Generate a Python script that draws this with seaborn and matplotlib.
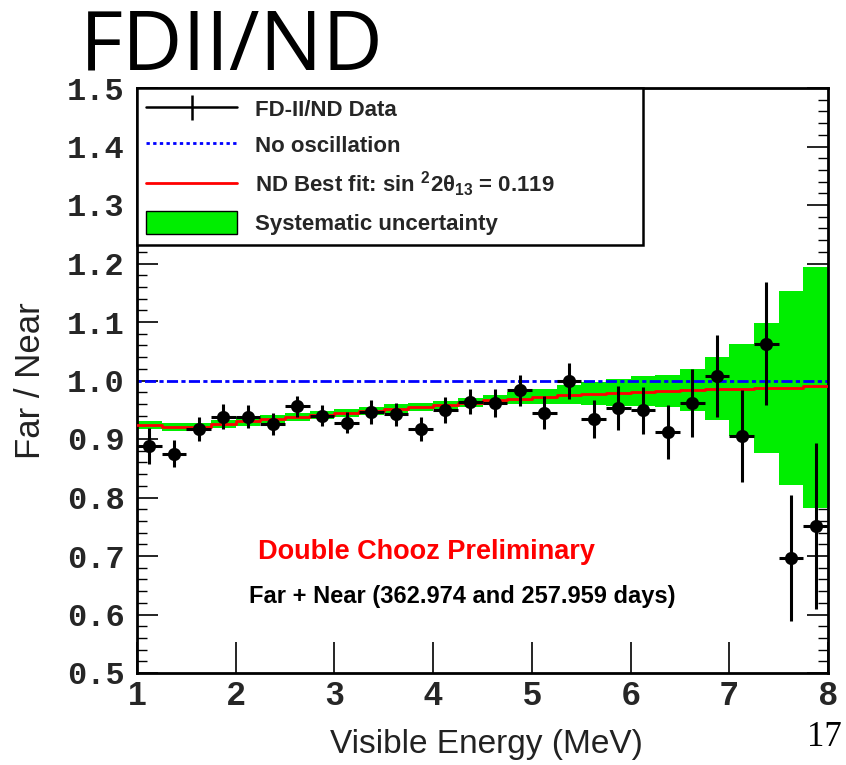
import numpy as np
import pandas as pd
import matplotlib
matplotlib.use("Agg")
import matplotlib.pyplot as plt
import seaborn as sns
from matplotlib.lines import Line2D
from matplotlib.patches import Patch
from matplotlib.ticker import MultipleLocator

# ---------------- data ----------------
energy = [1.125, 1.375, 1.625, 1.875, 2.125, 2.375, 2.625, 2.875, 3.125, 3.375,
          3.625, 3.875, 4.125, 4.375, 4.625, 4.875, 5.125, 5.375, 5.625, 5.875,
          6.125, 6.375, 6.625, 6.875, 7.125, 7.375, 7.625, 7.875]
ratio = [0.888, 0.875, 0.917, 0.938, 0.938, 0.926, 0.956, 0.940, 0.928, 0.946,
         0.942, 0.917, 0.949, 0.964, 0.962, 0.983, 0.945, 0.999, 0.934, 0.953,
         0.949, 0.912, 0.962, 1.007, 0.905, 1.063, 0.697, 0.752]
ratio_err = [0.030, 0.023, 0.021, 0.021, 0.020, 0.019, 0.018, 0.018, 0.018, 0.021,
             0.019, 0.020, 0.022, 0.022, 0.024, 0.026, 0.028, 0.031, 0.033, 0.037,
             0.040, 0.046, 0.058, 0.070, 0.078, 0.105, 0.108, 0.142]
best_fit = [0.924, 0.920, 0.920, 0.926, 0.930, 0.934, 0.938, 0.941, 0.945, 0.948,
            0.952, 0.955, 0.958, 0.962, 0.966, 0.969, 0.972, 0.975, 0.977, 0.979,
            0.981, 0.982, 0.983, 0.985, 0.986, 0.987, 0.988, 0.990]
band_hi = [0.931, 0.927, 0.927, 0.933, 0.937, 0.941, 0.945, 0.948, 0.952, 0.955,
           0.959, 0.962, 0.965, 0.970, 0.976, 0.981, 0.986, 0.992, 0.997, 1.002,
           1.007, 1.010, 1.019, 1.040, 1.062, 1.098, 1.153, 1.194]
band_lo = [0.917, 0.913, 0.913, 0.919, 0.923, 0.927, 0.931, 0.934, 0.938, 0.941,
           0.945, 0.948, 0.951, 0.954, 0.958, 0.960, 0.960, 0.959, 0.958, 0.957,
           0.956, 0.955, 0.948, 0.933, 0.905, 0.876, 0.822, 0.782]
bin_half = 0.125
no_osc = 1.0
yticks = [0.5, 0.6, 0.7, 0.8, 0.9, 1.0, 1.1, 1.2, 1.3, 1.4, 1.5]
xticks = [1, 2, 3, 4, 5, 6, 7, 8]

df = pd.DataFrame({"energy": energy, "ratio": ratio, "err": ratio_err})
edges = [e - bin_half for e in energy] + [energy[-1] + bin_half]
step_df = pd.DataFrame({"edge": edges, "fit": best_fit + [best_fit[-1]]})

# ---------------- style ----------------
sns.set_theme(style="ticks")
plt.rcParams["font.family"] = ["Liberation Sans", "DejaVu Sans"]
plt.rcParams["mathtext.fontset"] = "custom"
plt.rcParams["mathtext.rm"] = "Liberation Sans:bold"
plt.rcParams["mathtext.it"] = "Liberation Sans:bold"
plt.rcParams["mathtext.bf"] = "Liberation Sans:bold"

fig = plt.figure(figsize=(8.46, 7.65), dpi=100)
ax = fig.add_axes([137 / 846, 1 - 673 / 765, 691 / 846, 585 / 765])

# systematic band (step)
ax.fill_between(edges, band_lo + [band_lo[-1]], band_hi + [band_hi[-1]],
                step="post", color="#00ee00", lw=0, zorder=1)
# best fit
sns.lineplot(data=step_df, x="edge", y="fit", ax=ax, color="red", lw=2,
             drawstyle="steps-post", estimator=None, sort=False, zorder=3)
# no oscillation
ax.axhline(no_osc, color="blue", lw=2, ls=(0, (1.5, 1.2, 4, 1.2)), zorder=2)
# data
ax.errorbar(df["energy"], df["ratio"], yerr=df["err"], xerr=bin_half,
            fmt="none", ecolor="black", elinewidth=2.2, capsize=0, zorder=4)
sns.scatterplot(data=df, x="energy", y="ratio", ax=ax, color="black", s=90,
                marker="o", edgecolor="black", linewidth=0, zorder=5)

ax.set_xlim(1, 8)
ax.set_ylim(0.5, 1.5)
ax.set_xticks(xticks)
ax.set_yticks(yticks)
ax.yaxis.set_minor_locator(MultipleLocator(0.02))
ax.set_xticklabels([str(v) for v in xticks],
                   fontdict={"family": ["Liberation Sans Narrow", "Liberation Sans"],
                             "weight": "bold", "size": 24})
ax.set_yticklabels([f"{v:.1f}" for v in yticks],
                   fontdict={"family": ["Liberation Mono", "DejaVu Sans Mono"],
                             "weight": "bold", "size": 23})
ax.tick_params(axis="both", which="both", direction="in", color="black")
ax.tick_params(axis="y", which="major", length=15, width=1.2, right=True, pad=9)
ax.tick_params(axis="y", which="minor", length=7, width=1.0, right=True)
ax.tick_params(axis="x", which="major", length=22, width=1.2, pad=6)
for s in ax.spines.values():
    s.set_linewidth(2)
    s.set_color("black")

ax.set_ylabel("Far / Near", fontsize=25, color="#222222", labelpad=14)
ax.set(xlabel=None)
fig.text((137 + 828) / 2 / 846 + 0.005, 1 - 745 / 765, "Visible Energy (MeV)",
         fontsize=24, color="#222222", ha="center", va="center")

ax.text(3.93, 0.706, "Double Chooz Preliminary", color="red", fontsize=19.5,
        fontweight="bold", ha="center", va="center")
ax.text(4.29, 0.630, "Far + Near (362.974 and 257.959 days)", color="black",
        fontsize=17, fontweight="bold", ha="center", va="center")

handles = [
    Line2D([], [], color="black", lw=1.8, marker="|", markersize=18, markeredgewidth=1.8),
    Line2D([], [], color="blue", lw=2, ls=(0, (1.2, 1.2))),
    Line2D([], [], color="red", lw=2),
    Patch(facecolor="#00ee00", edgecolor="black", lw=1),
]
labels = ["FD-II/ND Data", "No oscillation",
          r"ND Best fit: sin $^{2}$2$\theta_{13}$ = 0.119", "Systematic uncertainty"]
leg = ax.legend(handles, labels, loc="upper left",
                bbox_to_anchor=(0, 1, (643 - 137) / 691, 0), mode="expand",
                borderaxespad=0, frameon=True, fancybox=False, framealpha=1,
                edgecolor="black", prop={"weight": "bold", "size": 16},
                handlelength=4.1, handleheight=1.2, handletextpad=0.8,
                labelspacing=0.55, borderpad=0.42)
leg.get_frame().set_linewidth(1.8)
leg.set_zorder(10)

fig.text(80 / 846, 1 - 70 / 765, "FDII/ND", fontsize=60, family="Open Sans",
         ha="left", va="baseline", color="black")
fig.text(824 / 846, 1 - 737 / 765, "17", fontsize=25, family="Liberation Serif",
         ha="center", va="center", color="black")

fig.savefig("out.png", dpi=100)
